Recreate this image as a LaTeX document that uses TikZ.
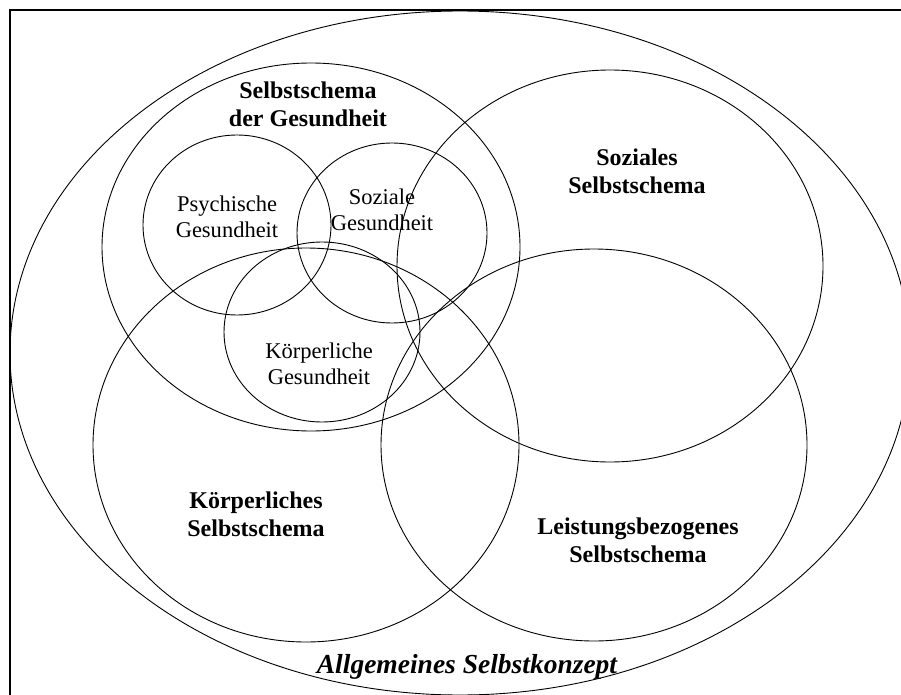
\documentclass[tikz,border=0pt]{standalone}
\usepackage{fontspec}
\setmainfont{Liberation Serif}
\begin{document}
\begin{tikzpicture}[x=1pt,y=-1pt,
  ring/.style={draw,line width=0.9pt},
  biglabel/.style={align=center,font=\fontsize{24}{28}\selectfont\bfseries,inner sep=0pt},
  smalllabel/.style={align=center,font=\fontsize{22.5}{26}\selectfont,inner sep=0pt}]
\fill[white] (0,0) rectangle (901,695);
\useasboundingbox (0,0) rectangle (901,695);
\clip (0,0) rectangle (901,695);
% frame (top and left edges)
\draw[line width=2pt] (10,700) -- (10,10) -- (901,10);
% general self-concept
\draw[ring] (460,353) ellipse (450pt and 342pt);
% schema circles
\draw[ring] (311,247) ellipse (209pt and 184pt);
\draw[ring] (610,266) ellipse (213pt and 196pt);
\draw[ring] (306,445) ellipse (213pt and 197pt);
\draw[ring] (594,445) ellipse (213pt and 196pt);
% health circles
\draw[ring] (237,225) ellipse (94pt and 90pt);
\draw[ring] (392,233) ellipse (95pt and 90pt);
\draw[ring] (322,332) ellipse (98pt and 90pt);
% labels
\node[biglabel] (sg) at (308,104) {Selbstschema\\der Gesundheit};
\node[biglabel] (ss) at (637,171) {Soziales\\Selbstschema};
\node[biglabel] (ks) at (256,514) {Körperliches\\Selbstschema};
\node[biglabel] (ls) at (638,540) {Leistungsbezogenes\\Selbstschema};
\node[smalllabel] (pg) at (227,217) {Psychische\\Gesundheit};
\node[smalllabel] (szg) at (382,210) {Soziale\\Gesundheit};
\node[smalllabel] (kg) at (319,364) {Körperliche\\Gesundheit};
\node[inner sep=0pt,font=\fontsize{27.5}{32}\selectfont\bfseries\itshape] (as) at (467,667) {Allgemeines Selbstkonzept};
\end{tikzpicture}
\end{document}
